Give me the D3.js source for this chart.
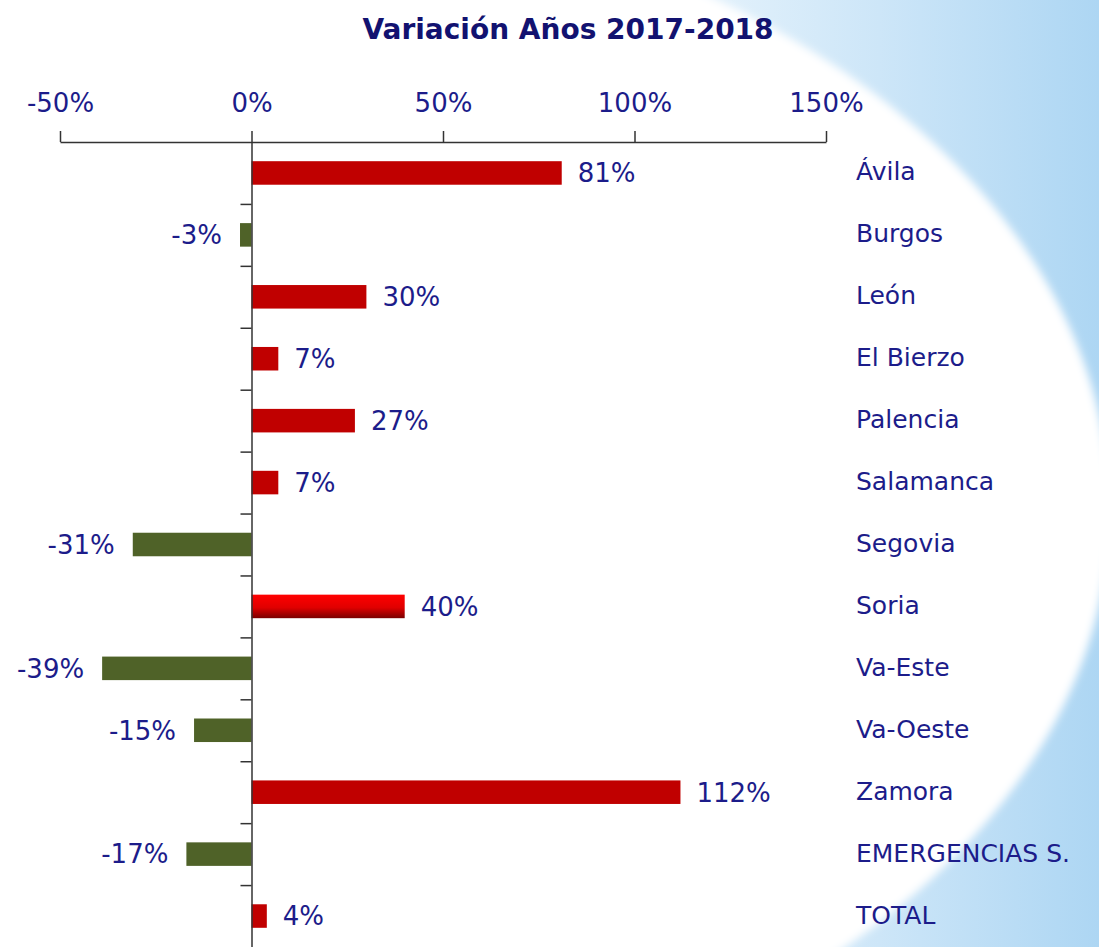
<!DOCTYPE html>
<html>
<head>
<meta charset="utf-8">
<script src="https://cdn.jsdelivr.net/npm/d3@7"></script>
<style>
  body { margin: 0; background: #fff; }
  text { font-family: "DejaVu Sans", Verdana, sans-serif; }
</style>
</head>
<body>
<script>
// data
const categories = ["Ávila", "Burgos", "León", "El Bierzo", "Palencia", "Salamanca", "Segovia",
  "Soria", "Va-Este", "Va-Oeste", "Zamora", "EMERGENCIAS S.", "TOTAL"];
const variation = [81, -3, 30, 7, 27, 7, -31, 40, -39, -15, 112, -17, 4];
const xTicks = [-50, 0, 50, 100, 150];
const highlighted = "Soria";

const W = 1099, H = 947;
const textColor = "#1c1c8a";

const svg = d3.select("body").append("svg")
  .attr("width", W)
  .attr("height", H);

const defs = svg.append("defs");

// blue background gradient
const bg = defs.append("linearGradient").attr("id", "bgGrad")
  .attr("x1", "0").attr("y1", "0").attr("x2", "1").attr("y2", "0");
bg.append("stop").attr("offset", "0.55").attr("stop-color", "#f0f8fd");
bg.append("stop").attr("offset", "0.8").attr("stop-color", "#cde6f8");
bg.append("stop").attr("offset", "1").attr("stop-color", "#add6f3");

const blur = defs.append("filter").attr("id", "soft")
  .attr("x", "-10%").attr("y", "-10%").attr("width", "120%").attr("height", "120%");
blur.append("feGaussianBlur").attr("stdDeviation", 4);

// highlighted bar gradient
const sg = defs.append("linearGradient").attr("id", "soriaGrad")
  .attr("x1", "0").attr("y1", "0").attr("x2", "0").attr("y2", "1");
sg.append("stop").attr("offset", "0").attr("stop-color", "#ff0000");
sg.append("stop").attr("offset", "0.55").attr("stop-color", "#e00000");
sg.append("stop").attr("offset", "1").attr("stop-color", "#7a0000");

svg.append("rect")
  .attr("width", W).attr("height", H)
  .attr("fill", "url(#bgGrad)");

svg.append("ellipse")
  .attr("cx", 200).attr("cy", 510)
  .attr("rx", 910).attr("ry", 620)
  .attr("fill", "#ffffff")
  .attr("filter", "url(#soft)");

// scales
const x = d3.scaleLinear()
  .domain([-50, 150])
  .range([60, 826]);

const plotTop = 142, plotBottom = 947;
const y = d3.scaleBand()
  .domain(categories)
  .range([plotTop, plotBottom])
  .padding(0);

const barH = y.bandwidth() * 0.38;

// title
svg.append("text")
  .attr("x", 568)
  .attr("y", 39)
  .attr("text-anchor", "middle")
  .attr("font-size", 28)
  .attr("font-weight", "bold")
  .attr("fill", "#121270")
  .text("Variación Años 2017-2018");

// top axis
const xAxis = d3.axisTop(x)
  .tickValues(xTicks)
  .tickFormat(d => d + "%")
  .tickSize(11)
  .tickSizeOuter(0)
  .tickPadding(19);

const gx = svg.append("g")
  .attr("transform", "translate(0," + plotTop + ")")
  .call(xAxis);
gx.selectAll("path, line").attr("stroke", "#333").attr("stroke-width", 1.5);
gx.selectAll("text")
  .attr("font-size", 26)
  .attr("fill", textColor)
  .style("font-family", "DejaVu Sans, sans-serif");

// bars
svg.selectAll("rect.bar")
  .data(categories)
  .enter()
  .append("rect")
  .attr("class", "bar")
  .attr("x", (d, i) => x(Math.min(0, variation[i])))
  .attr("y", d => y(d) + (y.bandwidth() - barH) / 2)
  .attr("width", (d, i) => Math.abs(x(variation[i]) - x(0)))
  .attr("height", barH)
  .attr("fill", (d, i) => d === highlighted ? "url(#soriaGrad)" : (variation[i] >= 0 ? "#c00000" : "#4f6228"));

// vertical zero axis with ticks between categories
const yEdges = d3.scaleLinear().domain([0, categories.length]).range([plotTop, plotBottom]);
const gy = svg.append("g")
  .attr("transform", "translate(" + x(0) + ",0)")
  .call(d3.axisLeft(yEdges)
    .tickValues(d3.range(1, categories.length))
    .tickFormat("")
    .tickSize(11)
    .tickSizeOuter(0));
gy.selectAll("path, line").attr("stroke", "#333").attr("stroke-width", 1.5);

// value labels
svg.selectAll("text.val")
  .data(categories)
  .enter()
  .append("text")
  .attr("class", "val")
  .attr("x", (d, i) => variation[i] >= 0 ? x(variation[i]) + 16 : x(variation[i]) - 18)
  .attr("y", d => y(d) + y.bandwidth() / 2)
  .attr("dy", "0.36em")
  .attr("text-anchor", (d, i) => variation[i] >= 0 ? "start" : "end")
  .attr("font-size", 26)
  .attr("fill", textColor)
  .text((d, i) => variation[i] + "%");

// category labels
svg.selectAll("text.cat")
  .data(categories)
  .enter()
  .append("text")
  .attr("class", "cat")
  .attr("x", 856)
  .attr("y", d => y(d) + y.bandwidth() / 2)
  .attr("dy", "0.3em")
  .attr("font-size", 25)
  .attr("fill", textColor)
  .text(d => d);
</script>
</body>
</html>
